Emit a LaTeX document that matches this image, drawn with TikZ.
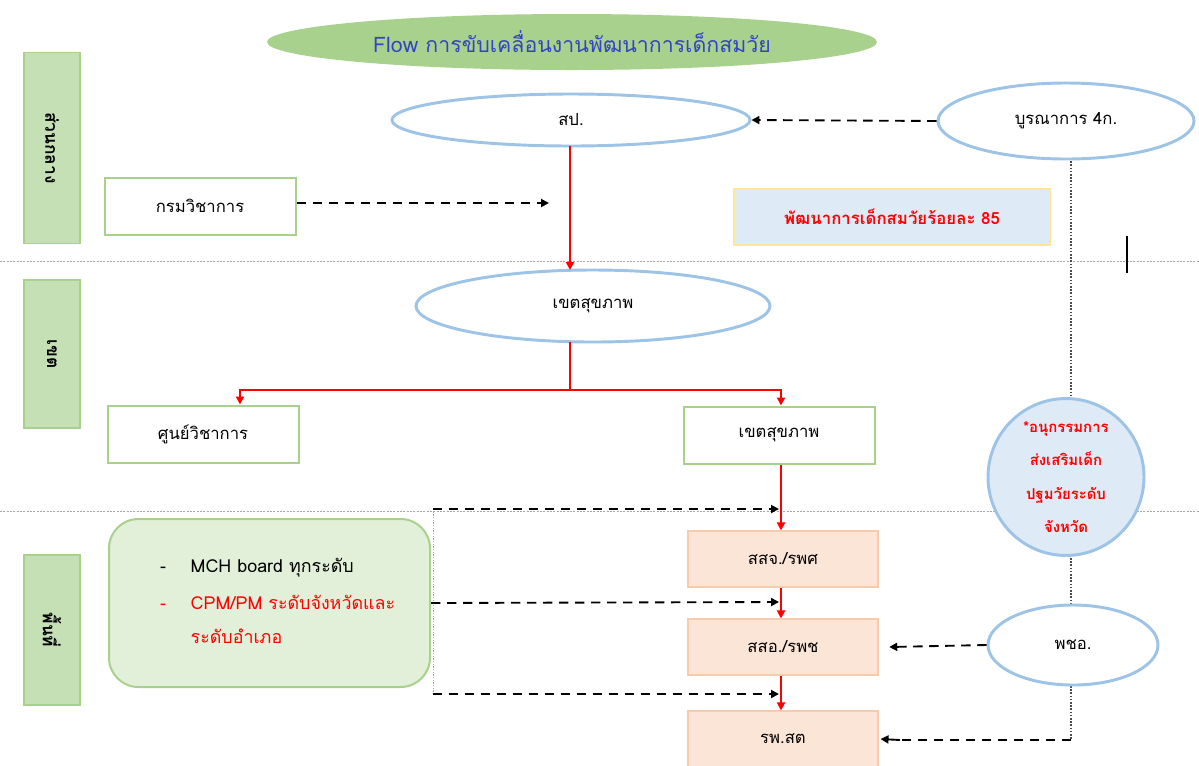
\documentclass[tikz,border=0pt]{standalone}
\usepackage{fontspec}
\setmainfont[Script=Thai]{Loma}
\usetikzlibrary{shapes.geometric,arrows.meta}
\definecolor{lanegreen}{HTML}{C5E0B4}
\definecolor{greenline}{HTML}{A9D18E}
\definecolor{paleblue}{HTML}{DEEBF7}
\definecolor{blueline}{HTML}{9DC3E6}
\definecolor{peach}{HTML}{FBE5D6}
\definecolor{peachline}{HTML}{F8CBAD}
\definecolor{yellowline}{HTML}{FFE699}
\definecolor{palegreen}{HTML}{E2F0D9}
\definecolor{titleblue}{HTML}{3344C4}
\tikzset{
  txt/.style={font=\fontsize{12.5}{14}\selectfont},
  boardtxt/.style={font=\fontsize{13.4}{15}\selectfont},
  lanetxt/.style={font=\bfseries\fontsize{13}{15}\selectfont},
  lanebox/.style={draw=greenline,line width=1.2pt,fill=lanegreen,minimum width={56*0.75pt},inner sep=0pt},
  greenbox/.style={draw=greenline,line width=1.5pt,fill=white,minimum width={191*0.75pt},minimum height={57*0.75pt},inner sep=0pt,txt},
  peachbox/.style={draw=peachline,line width=0.8pt,fill=peach,minimum width={190*0.75pt},minimum height={56*0.75pt},inner sep=0pt,txt},
  blueell/.style={ellipse,draw=blueline,line width=2.2pt,fill=white,inner sep=0pt,txt},
  redarrow/.style={draw=red,line width=1.5pt,-{Triangle[length=6pt,width=6pt]}},
  redline/.style={draw=red,line width=1.5pt},
  dasharrow/.style={draw=black,line width=1.4pt,dash pattern=on 7pt off 5pt,-{Triangle[length=6pt,width=6pt]}},
  lanesep/.style={draw=gray!70,line width=0.5pt,dash pattern=on 1.5pt off 1pt},
  dotline/.style={draw=gray!60!black,line width=1.2pt,dash pattern=on 1.2pt off 1.2pt},
  thindot/.style={draw=gray!70,line width=0.5pt,dash pattern=on 1pt off 1pt},
}
\begin{document}
\begin{tikzpicture}[x=0.75pt,y=-0.75pt]
\clip (0,0) rectangle (1199,765);
\fill[white] (0,0) rectangle (1199,765);

% lane separators
\coordinate (s1a) at (0,261);
\coordinate (s1b) at (1199,261);
\coordinate (s2a) at (0,511);
\coordinate (s2b) at (1199,511);
\draw[lanesep] (s1a) -- (s1b);
\draw[lanesep] (s2a) -- (s2b);

% lane labels
\node[lanebox,minimum height={191*0.75pt}] (lane1) at (52,148) {};
\node[rotate=-90,lanetxt] (lane1t) at (lane1.center) {ส่วนกลาง};
\node[lanebox,minimum height={148*0.75pt}] (lane2) at (52,354) {};
\node[rotate=-90,lanetxt] (lane2t) at (lane2.center) {เขต};
\node[lanebox,minimum height={150*0.75pt}] (lane3) at (52,630) {};
\node[rotate=-90,lanetxt] (lane3t) at (lane3.center) {พื้นที่};

% title
\node[ellipse,fill=greenline,minimum width={610*0.75pt},minimum height={56*0.75pt},inner sep=0pt,
  text=titleblue,font=\fontsize{16}{18}\selectfont] (title) at (572,42) {Flow การขับเคลื่อนงานพัฒนาการเด็กสมวัย};

% long dotted vertical line on right
\coordinate (dotend) at (1071,740);
\coordinate (dotstart) at (1071,158);
\draw[dotline] (dotstart) -- (dotend);

% nodes
\node[blueell,minimum width={358*0.75pt},minimum height={52*0.75pt}] (sp) at (571,120) {สป.};
\node[blueell,minimum width={256*0.75pt},minimum height={76*0.75pt}] (bur) at (1066,121) {บูรณาการ 4ก.};
\node[greenbox] (krom) at (200,206) {กรมวิชาการ};
\coordinate (kromend) at (549,203);
\node[draw=yellowline,line width=2.2pt,fill=paleblue,minimum width={316*0.75pt},minimum height={56*0.75pt},
  inner sep=0pt,text=red,font=\bfseries\fontsize{12.6}{14}\selectfont] (target) at (892,217) {พัฒนาการเด็กสมวัยร้อยละ 85};

\node[blueell,minimum width={354*0.75pt},minimum height={72*0.75pt}] (khet) at (593,306) {เขตสุขภาพ};
\node[greenbox] (center) at (203,434) {ศูนย์วิชาการ};
\node[greenbox] (khetbox) at (779,435) {เขตสุขภาพ};

\node[peachbox] (ssj) at (783,559) {สสจ./รพศ};
\node[peachbox] (sso) at (783,647) {สสอ./รพช};
\node[peachbox] (rpst) at (783,739) {รพ.สต};

\node[ellipse,draw=blueline,line width=2.2pt,fill=paleblue,minimum width={156*0.75pt},minimum height={144*0.75pt},
  inner sep=0pt,align=center,text=red,font=\bfseries\fontsize{11.2}{25}\selectfont] (sub) at (1066,477)
  {*อนุกรรมการ\\ส่งเสริมเด็ก\\ปฐมวัยระดับ\\จังหวัด};
\node[blueell,minimum width={170*0.75pt},minimum height={80*0.75pt}] (pcho) at (1073,645) {พชอ.};

% green rounded box
\node[draw=greenline,line width=1.5pt,fill=palegreen,rounded corners=22pt,minimum width={321*0.75pt},
  minimum height={168*0.75pt},inner sep=0pt] (board) at (269.5,603) {};
\node[boardtxt,anchor=base] (d1) at (163,572) {-};
\node[boardtxt,anchor=base west] (t1) at (186,572) {MCH board ทุกระดับ};
\node[boardtxt,anchor=base,text=red] (d2) at (163,609) {-};
\node[boardtxt,anchor=base west,text=red] (t2) at (186,609) {CPM/PM ระดับจังหวัดและ};
\node[boardtxt,anchor=base west,text=red] (t3) at (186,643) {ระดับอำเภอ};

% small vertical bar
\coordinate (bar1) at (1127,236);
\coordinate (bar2) at (1127,273);
\draw[line width=1pt] (bar1) -- (bar2);

% connectors
\draw[dasharrow] (krom.east |- kromend) -- (kromend);
\draw[dasharrow] (bur.west) -- (sp.east);
\coordinate (spbot) at (570,146);
\coordinate (khettop) at (570,270);
\coordinate (khetbot) at (570,342);
\draw[redarrow] (spbot) -- (khettop);
\coordinate (split) at (570,390);
\draw[redline] (khetbot) -- (split);
\draw[redarrow] (split) -| ([xshift=27.75pt]center.north);
\draw[redarrow] (split) -| ([xshift=1.5pt]khetbox.north);
\draw[redarrow] ([xshift=1.5pt]khetbox.south) -- ([xshift=-1.5pt]ssj.north);
\draw[redarrow] ([xshift=-1.5pt]ssj.south) -- ([xshift=-1.5pt]sso.north);
\draw[redarrow] ([xshift=-1.5pt]sso.south) -- ([xshift=-1.5pt]rpst.north);

% board connectors
\coordinate (bt) at (433,509);
\coordinate (bb) at (433,694);
\coordinate (bte) at (779,509);
\coordinate (bme) at (779,602);
\coordinate (bbe) at (779,694);
\draw[thindot] (bt) -- (bb);
\draw[dasharrow] (bt) -- (bte);
\draw[dasharrow] (board.east) -- (bme);
\draw[dasharrow] (bb) -- (bbe);

% right side connectors
\draw[dasharrow] (pcho.west) -- ([xshift=8pt]sso.east);
\coordinate (bend) at (900,740);
\draw[line width=1.4pt,dash pattern=on 7pt off 5pt] (dotend) -- (bend);
\draw[line width=1.4pt,-{Triangle[length=6pt,width=6pt]}] (bend) -- ([xshift=1.5pt]rpst.east);
\end{tikzpicture}
\end{document}
